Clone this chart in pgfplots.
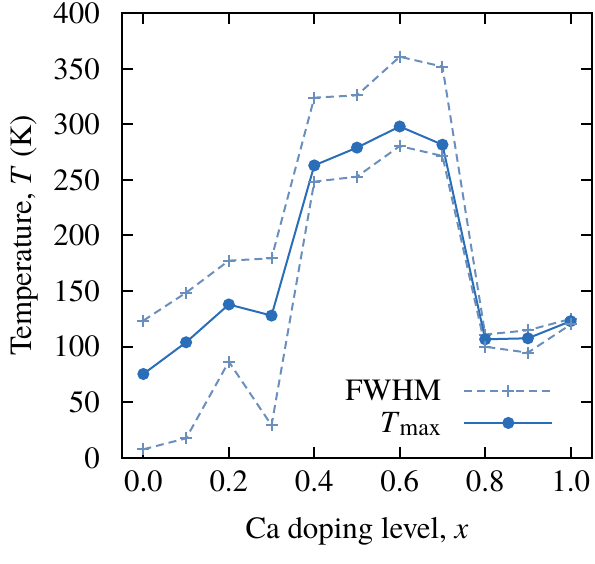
\documentclass[border=0pt]{standalone}
\usepackage{fontspec}
\setmainfont{TeX Gyre Termes}
\usepackage{amsmath}
\usepackage{pgfplots}
\pgfplotsset{compat=1.18}
\definecolor{tmaxc}{HTML}{2A6DB9}
\definecolor{fwhmc}{HTML}{6A8FBC}
\newcommand{\bigf}{\rmfamily\fontsize{31}{37}\selectfont}
\begin{document}
\begin{tikzpicture}
\useasboundingbox (-122bp,-106bp) rectangle (473bp,458bp);
\begin{axis}[
  at={(0,0)}, anchor=south west,
  width=470bp, height=445bp, scale only axis,
  xmin=-0.05, xmax=1.05, ymin=0, ymax=400,
  xtick={0,0.2,0.4,0.6,0.8,1.0},
  xticklabels={0.0,0.2,0.4,0.6,0.8,1.0},
  ytick={0,50,100,150,200,250,300,350,400},
  tick align=inside,
  major tick length=11bp,
  tick style={line width=2bp, black},
  axis line style={line width=2bp},
  /pgf/number format/assume math mode=true,
  ticklabel style={font=\bigf, inner sep=0pt},
  xticklabel style={anchor=base, yshift=-33bp},
  yticklabel style={anchor=east, xshift=-22bp},
  label style={font=\bigf, inner sep=0pt},
  xlabel={Ca doping level, \textit{x}},
  ylabel={Temperature, \textit{T} (K)},
  xlabel style={at={([yshift=-80bp]axis description cs:0.5,0)}, anchor=base},
  ylabel style={at={([xshift=-84bp]axis description cs:0,0.5)}, anchor=south},
  legend style={draw=none, fill=none, font=\bigf, at={(axis cs:0.96,21.6)}, anchor=south east, inner sep=0pt, nodes={inner sep=0pt}, column sep=22bp, row sep=10bp},
  legend cell align=right,
  legend plot pos=right,
  legend image code/.code={\draw[mark repeat=2,mark phase=2,#1] plot coordinates {(0bp,0bp)(44bp,0bp)(88bp,0bp)};},
]
\addplot[color=fwhmc, line width=2bp, dash pattern=on 8bp off 5bp, mark=+, mark size=6bp, mark options={solid, line width=2bp}]
  coordinates {(0.0,123.5)(0.1,148.6)(0.2,177.4)(0.3,179.5)(0.4,323.9)(0.5,326)(0.6,360.7)(0.7,351.8)(0.8,111)(0.9,114.8)(1.0,125)};
\addlegendentry{FWHM}
\addplot[color=tmaxc, line width=2bp, mark=*, mark size=5bp, mark options={solid}]
  coordinates {(0.0,75.5)(0.1,104)(0.2,138)(0.3,128)(0.4,263)(0.5,279)(0.6,298)(0.7,281.6)(0.8,106.7)(0.9,107.6)(1.0,123)};
\addlegendentry{\textit{T}$_{\text{\fontsize{24}{28}\selectfont max}}$}
\addplot[forget plot, color=fwhmc, line width=2bp, dash pattern=on 8bp off 5bp, mark=+, mark size=6bp, mark options={solid, line width=2bp}]
  coordinates {(0.0,7.8)(0.1,17.7)(0.2,86.6)(0.3,29.4)(0.4,248.4)(0.5,252.9)(0.6,280.4)(0.7,271.5)(0.8,100)(0.9,94.7)(1.0,120)};
\end{axis}
\end{tikzpicture}
\end{document}
